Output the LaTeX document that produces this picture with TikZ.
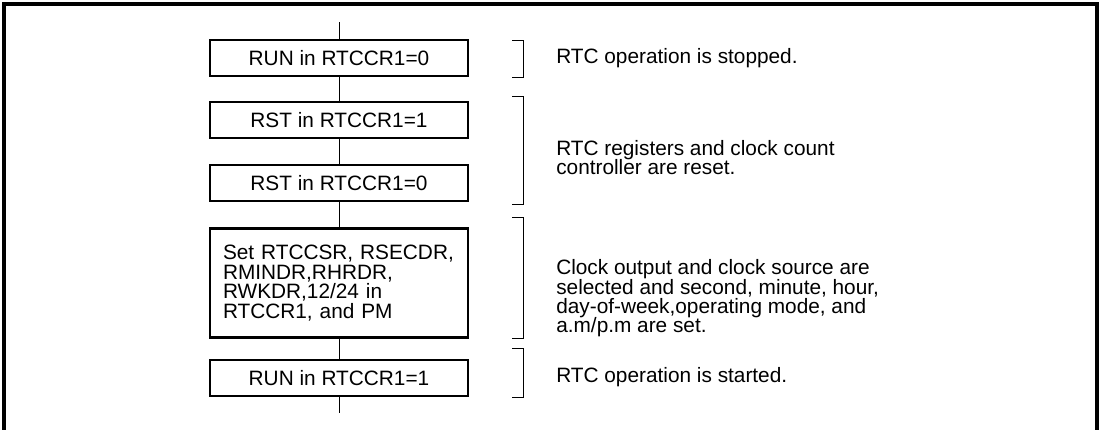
\documentclass[tikz,border=0pt]{standalone}
\usepackage{fontspec}
\setmainfont{Liberation Sans}
\usetikzlibrary{positioning}

\begin{document}
\begin{tikzpicture}[
    box/.style={rectangle, draw, line width=1.6pt, minimum width=6.45cm, minimum height=0.9cm, inner sep=0pt, align=center, font=\fontsize{14.8}{13.8}\selectfont},
    note/.style={anchor=west, align=left, inner sep=0pt, font=\fontsize{14.8}{13.8}\selectfont},
    link/.style={line width=0.7pt},
    brace/.style={line width=0.7pt}
]
    \useasboundingbox (0,0) rectangle (27.525,-10.725);

    % Outer frame, open at the bottom
    \draw[line width=2.4pt] (0.1,-10.9) -- (0.1,-0.1) -- (27.425,-0.1) -- (27.425,-10.9);

    % Flow steps
    \node[box] (run0) at (8.475,-1.45) {RUN in RTCCR1=0};
    \node[box] (rst1) at (8.475,-3.0) {RST in RTCCR1=1};
    \node[box] (rst0) at (8.475,-4.575) {RST in RTCCR1=0};
    \node[box, minimum height=2.725cm, text width=5.8cm, inner xsep=0.325cm, align=left] (setup) at (8.475,-7.075) {Set RTCCSR, RSECDR,\\RMINDR,RHRDR,\\RWKDR,12/24 in\\RTCCR1, and PM};
    \node[box] (run1) at (8.475,-9.45) {RUN in RTCCR1=1};
    \coordinate (top) at (8.475,-0.55);
    \coordinate (bot) at (8.475,-10.325);

    % Flow line
    \draw[link] (top) -- (run0);
    \draw[link] (run0) -- (rst1);
    \draw[link] (rst1) -- (rst0);
    \draw[link] (rst0) -- (setup);
    \draw[link] (setup) -- (run1);
    \draw[link] (run1) -- (bot);

    % Brackets
    \coordinate (bk) at (13.075,0);
    \draw[brace] (bk |- run0.north) ++(-0.275,-0.05) -| (bk |- run0.south) -- ++(-0.275,0);
    \draw[brace] (bk |- rst1.north) ++(-0.275,0.1) -| ([yshift=-0.05cm]bk |- rst0.south) -- ++(-0.275,0);
    \draw[brace] (bk |- setup.north) ++(-0.275,0.25) -| (bk |- setup.south) -- ++(-0.275,0);
    \draw[brace] (bk |- run1.north) ++(-0.275,0.25) -| (bk |- run1.south) -- ++(-0.275,0);

    % Descriptions
    \node[note] (stop) at (13.9,-1.45) {RTC operation is stopped.};
    \node[note] (reset) at (13.9,-3.935) {RTC registers and clock count\\controller are reset.};
    \node[note] (mode) at (13.9,-7.46) {Clock output and clock source are\\selected and second, minute, hour,\\day-of-week,operating mode, and\\a.m/p.m are set.};
    \node[note] (start) at (13.9,-9.425) {RTC operation is started.};
\end{tikzpicture}
\end{document}
